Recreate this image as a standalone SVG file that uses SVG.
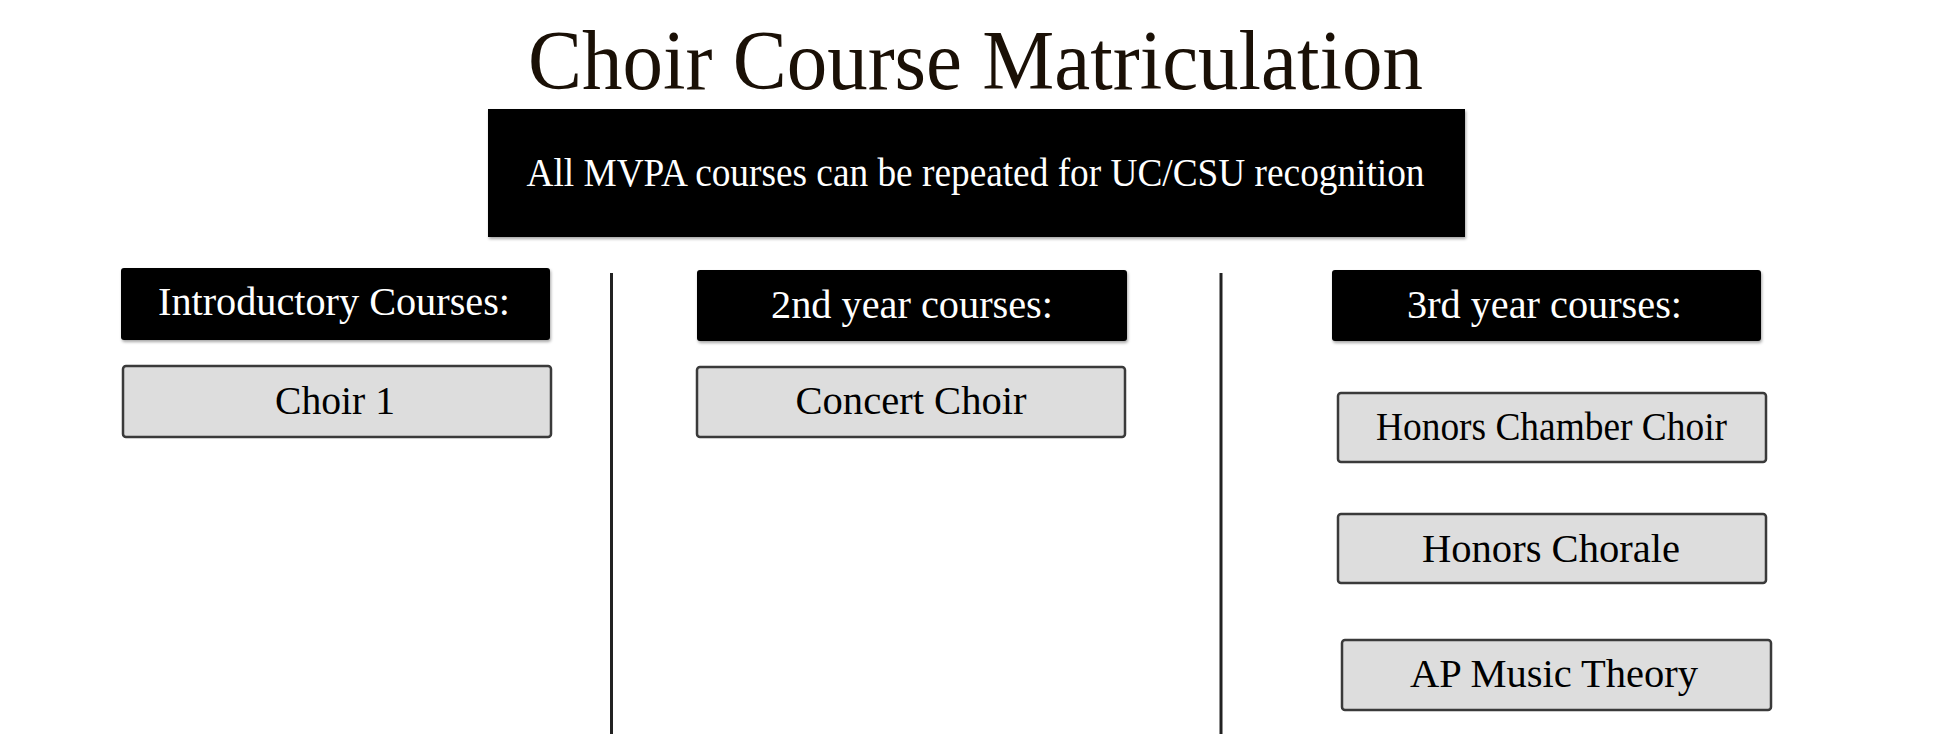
<svg xmlns="http://www.w3.org/2000/svg" width="1952" height="735" viewBox="0 0 1952 735">
  <defs>
    <filter id="sh" x="-5%" y="-10%" width="110%" height="125%">
      <feDropShadow dx="1" dy="2" stdDeviation="1.5" flood-color="#000" flood-opacity="0.35"/>
    </filter>
  </defs>
  <style>
    text { font-family: "Liberation Serif", "Times New Roman", serif; text-anchor: middle; }
    .title { font-size: 84px; fill: #1a1006; }
    .band { fill: #000; }
    .hdr { fill: #000; }
    .wt { fill: #fff; font-size: 40px; }
    .box { fill: #dddddd; stroke: #3a3a3a; stroke-width: 2.5; }
    .bt { fill: #000; font-size: 40px; }
    .sep { stroke: #222; stroke-width: 3; fill: none; }
  </style>
  <rect width="1952" height="735" fill="#fff"/>

  <g id="title">
    <text class="title" x="975.5" y="89" textLength="895" lengthAdjust="spacingAndGlyphs">Choir Course Matriculation</text>
  </g>

  <g id="banner">
    <rect class="band" x="488" y="109" width="977" height="128" filter="url(#sh)"/>
    <text class="wt" x="975.5" y="186" textLength="898" lengthAdjust="spacingAndGlyphs">All MVPA courses can be repeated for UC/CSU recognition</text>
  </g>

  <g id="connectors">
    <line class="sep" x1="611.5" y1="273" x2="611.5" y2="734"/>
    <line class="sep" x1="1221" y1="273" x2="1221" y2="734"/>
  </g>

  <g id="hdr-intro">
    <rect class="hdr" x="121" y="268" width="429" height="72" rx="3" filter="url(#sh)"/>
    <text class="wt" x="334" y="315" textLength="352" lengthAdjust="spacingAndGlyphs">Introductory Courses:</text>
  </g>
  <g id="hdr-2nd">
    <rect class="hdr" x="697" y="270" width="430" height="71" rx="3" filter="url(#sh)"/>
    <text class="wt" x="912" y="318" textLength="282" lengthAdjust="spacingAndGlyphs">2nd year courses:</text>
  </g>
  <g id="hdr-3rd">
    <rect class="hdr" x="1332" y="270" width="429" height="71" rx="3" filter="url(#sh)"/>
    <text class="wt" x="1544.5" y="318" textLength="275" lengthAdjust="spacingAndGlyphs">3rd year courses:</text>
  </g>

  <g id="choir1">
    <rect class="box" x="123" y="366" width="428" height="71" rx="3"/>
    <text class="bt" x="335" y="414" textLength="120" lengthAdjust="spacingAndGlyphs">Choir 1</text>
  </g>
  <g id="concert-choir">
    <rect class="box" x="697" y="367" width="428" height="70" rx="3"/>
    <text class="bt" x="911" y="414" textLength="231" lengthAdjust="spacingAndGlyphs">Concert Choir</text>
  </g>
  <g id="honors-chamber-choir">
    <rect class="box" x="1338" y="393" width="428" height="69" rx="3"/>
    <text class="bt" x="1551.5" y="440" textLength="351" lengthAdjust="spacingAndGlyphs">Honors Chamber Choir</text>
  </g>
  <g id="honors-chorale">
    <rect class="box" x="1338" y="514" width="428" height="69" rx="3"/>
    <text class="bt" x="1551" y="562" textLength="258" lengthAdjust="spacingAndGlyphs">Honors Chorale</text>
  </g>
  <g id="ap-music-theory">
    <rect class="box" x="1342" y="640" width="429" height="70" rx="3"/>
    <text class="bt" x="1554" y="687" textLength="288" lengthAdjust="spacingAndGlyphs">AP Music Theory</text>
  </g>
</svg>
